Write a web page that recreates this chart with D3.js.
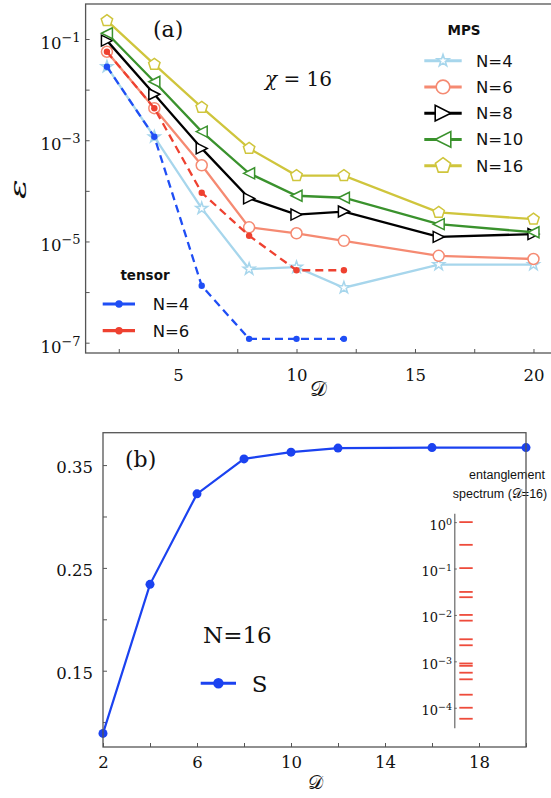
<!DOCTYPE html>
<html><head><meta charset="utf-8">
<script src="https://cdn.jsdelivr.net/npm/d3@7"></script>
<style>body{margin:0;background:#fff;} svg{display:block;}</style>
</head><body>
<svg id="c" width="551" height="798"></svg>
<script>
// ---------- data ----------
const D_mps = [2, 4, 6, 8, 10, 12, 16, 20];
const D_tensor = [2, 4, 6, 8, 10, 12];
const mps_N4  = [0.0284, 1.17e-3, 4.5e-5, 2.85e-6, 3.1e-6, 1.22e-6, 3.5e-6, 3.5e-6];
const mps_N6  = [0.056, 4.3e-3, 3.2e-4, 1.9e-5, 1.45e-5, 1.03e-5, 5.2e-6, 4.5e-6];
const mps_N8  = [0.093, 8.1e-3, 6.9e-4, 7.1e-5, 3.4e-5, 3.9e-5, 1.23e-5, 1.4e-5];
const mps_N10 = [0.13, 0.0143, 1.48e-3, 2.22e-4, 8.0e-5, 7.3e-5, 2.2e-5, 1.52e-5];
const mps_N16 = [0.23, 0.0316, 4.47e-3, 6.9e-4, 2.0e-4, 2.0e-4, 3.76e-5, 2.75e-5];
const tensor_N4 = [0.0284, 1.17e-3, 1.33e-6, 1.19e-7, 1.19e-7, 1.19e-7];
const tensor_N6 = [0.056, 4.3e-3, 9.2e-5, 1.3e-5, 2.7e-6, 2.7e-6];
const mpsLabels = ["N=4", "N=6", "N=8", "N=10", "N=16"];
const tensorLabels = ["N=4", "N=6"];
const D_S = [2, 4, 6, 8, 10, 12, 16, 20];
const S_vals = [0.089, 0.234, 0.322, 0.356, 0.3626, 0.3665, 0.367, 0.367];
const spectrum = [1.0, 0.324, 0.102, 0.0313, 0.0241, 0.0100, 0.00753, 0.00299, 0.00222,
                  0.00090, 0.00080, 0.000569, 0.000410, 0.000191, 0.000100, 0.0000579];
const topXTickLabels = [5, 10, 15, 20];
const topYTickLabels = [1e-1, 1e-3, 1e-5, 1e-7];
const botXTickLabels = [2, 6, 10, 14, 18];
const botYTickLabels = [0.15, 0.25, 0.35];
const insetTickLabels = [1, 1e-1, 1e-2, 1e-3, 1e-4];

// ---------- styles ----------
const mpsStyle = [
  {color: "#a7d6ec", shape: "star"},
  {color: "#f58a72", shape: "circle"},
  {color: "#000000", shape: "triR"},
  {color: "#3a922d", shape: "triL"},
  {color: "#cfc53c", shape: "pent"}
];
const mpsData = [mps_N4, mps_N6, mps_N8, mps_N10, mps_N16];
const tensorColors = ["#1f4ef5", "#ee4130"];
const tensorData = [tensor_N4, tensor_N6];
const SERIF = "DejaVu Serif, serif";
const SANS = "DejaVu Sans, sans-serif";
const SCRIPT = "DejaVu Sans, DejaVu Serif, Noto Sans, serif";

function markerPath(shape, r) {
  const p = d3.path();
  if (shape === "circle") { p.arc(0, 0, r, 0, 2 * Math.PI); }
  else if (shape === "star") {
    for (let i = 0; i < 10; i++) {
      const rad = i % 2 ? r * 0.39 : r, a = -Math.PI / 2 + i * Math.PI / 5;
      i ? p.lineTo(rad * Math.cos(a), rad * Math.sin(a)) : p.moveTo(rad * Math.cos(a), rad * Math.sin(a));
    }
    p.closePath();
  } else if (shape === "triR") { p.moveTo(r, 0); p.lineTo(-r, -r); p.lineTo(-r, r); p.closePath(); }
  else if (shape === "triL") { p.moveTo(-r, 0); p.lineTo(r, -r); p.lineTo(r, r); p.closePath(); }
  else if (shape === "pent") {
    for (let i = 0; i < 5; i++) {
      const a = -Math.PI / 2 + i * 2 * Math.PI / 5;
      i ? p.lineTo(r * Math.cos(a), r * Math.sin(a)) : p.moveTo(r * Math.cos(a), r * Math.sin(a));
    }
    p.closePath();
  }
  return p.toString();
}
const dataR = {circle: 5.5, star: 6.2, triR: 5.5, triL: 5.5, pent: 6};
const legR = {circle: 6.8, star: 6.2, triR: 7.8, triL: 7.8, pent: 8};

const svg = d3.select("#c");

function supLabel(g, x, y, exp, size, supSize, supDy) {
  const t = g.append("text").attr("x", x).attr("y", y).attr("text-anchor", "end")
    .attr("font-family", SERIF).attr("font-size", size).attr("fill", "#111");
  t.append("tspan").text("10");
  t.append("tspan").attr("dy", supDy).attr("font-size", supSize).text(exp < 0 ? "\u2212" + (-exp) : String(exp));
}

// ================= TOP PANEL =================
const T = {l: 85.6, r: 554.8, t: 4, b: 353};
const xTop = d3.scaleLinear().domain([1.1, 20.9]).range([T.l, T.r]);
const yTop = d3.scaleLog().domain([Math.pow(10, -7.204), Math.pow(10, -0.308)]).range([T.b, T.t]);

const gTop = svg.append("g");
const gxT = gTop.append("g").attr("transform", `translate(0,${T.b})`)
  .call(d3.axisBottom(xTop).tickValues([2.5, 5, 7.5, 10, 12.5, 15, 17.5, 20])
    .tickSizeInner(-4).tickSizeOuter(0).tickPadding(16)
    .tickFormat(d => topXTickLabels.includes(d) ? d : ""));
gxT.select(".domain").remove();
gxT.selectAll("line").attr("stroke", "#555");
gxT.selectAll("text").attr("font-family", SERIF).attr("font-size", 16.5).attr("fill", "#111");

const gyT = gTop.append("g").attr("transform", `translate(${T.l},0)`)
  .call(d3.axisLeft(yTop).tickValues(d3.range(-1, -8, -1).map(e => Math.pow(10, e)))
    .tickSizeInner(-4).tickSizeOuter(0).tickFormat(() => ""));
gyT.select(".domain").remove();
gyT.selectAll("line").attr("stroke", "#555");
topYTickLabels.forEach(v => supLabel(gTop, T.l - 5, yTop(v) + 10, Math.round(Math.log10(v)), 16.5, 13, -7));

const lineTop = (xs) => d3.line().x((d, i) => xTop(xs[i])).y(d => yTop(d));
mpsData.forEach((vals, k) => {
  const st = mpsStyle[k];
  gTop.append("path").attr("d", lineTop(D_mps)(vals)).attr("fill", "none")
    .attr("stroke", st.color).attr("stroke-width", 2.3);
  gTop.selectAll(null).data(vals).enter().append("path")
    .attr("d", markerPath(st.shape, dataR[st.shape]))
    .attr("transform", (d, i) => `translate(${xTop(D_mps[i])},${yTop(d)})`)
    .attr("fill", "#fff").attr("stroke", st.color).attr("stroke-width", 1.5);
});
tensorData.forEach((vals, k) => {
  gTop.append("path").attr("d", lineTop(D_tensor)(vals)).attr("fill", "none")
    .attr("stroke", tensorColors[k]).attr("stroke-width", 2.3).attr("stroke-dasharray", "8,5");
  gTop.selectAll(null).data(vals).enter().append("circle")
    .attr("cx", (d, i) => xTop(D_tensor[i])).attr("cy", d => yTop(d)).attr("r", 3.2)
    .attr("fill", tensorColors[k]);
});
gTop.append("rect").attr("x", T.l).attr("y", T.t).attr("width", T.r - T.l).attr("height", T.b - T.t)
  .attr("fill", "none").attr("stroke", "#555").attr("stroke-width", 1.3);

gTop.append("text").attr("x", 153).attr("y", 37).attr("font-family", SERIF).attr("font-size", 22).attr("fill", "#111").text("(a)");
const chi = gTop.append("text").attr("x", 265).attr("y", 86).attr("font-family", SERIF).attr("font-size", 20).attr("fill", "#111");
chi.append("tspan").attr("font-style", "italic").text("\u03c7");
chi.append("tspan").text(" = 16");
gTop.append("text").attr("transform", "translate(26,189) rotate(-90) scale(1.6,1)").attr("text-anchor", "middle")
  .attr("font-family", SERIF).attr("font-style", "italic").attr("font-size", 23).attr("fill", "#111").text("\u03b5");
gTop.append("text").attr("x", 318).attr("y", 396).attr("text-anchor", "middle")
  .attr("font-family", SCRIPT).attr("font-size", 21).attr("fill", "#111").text("\ud835\udc9f");

// MPS legend
gTop.append("text").attr("x", 464).attr("y", 35).attr("text-anchor", "middle").attr("font-family", SANS)
  .attr("font-weight", "bold").attr("font-size", 13.5).attr("fill", "#111").text("MPS");
mpsLabels.forEach((lab, k) => {
  const y = 60.7 + k * 26.25, st = mpsStyle[k];
  gTop.append("line").attr("x1", 424.3).attr("x2", 461.7).attr("y1", y).attr("y2", y)
    .attr("stroke", st.color).attr("stroke-width", 3);
  gTop.append("path").attr("d", markerPath(st.shape, legR[st.shape])).attr("transform", `translate(443,${y})`)
    .attr("fill", "#fff").attr("stroke", st.color).attr("stroke-width", 1.6);
  gTop.append("text").attr("x", 476).attr("y", y + 6).attr("font-family", SANS).attr("font-size", 16.5)
    .attr("fill", "#111").text(lab);
});
// tensor legend
gTop.append("text").attr("x", 145).attr("y", 280).attr("text-anchor", "middle").attr("font-family", SANS)
  .attr("font-weight", "bold").attr("font-size", 13.5).attr("fill", "#111").text("tensor");
tensorLabels.forEach((lab, k) => {
  const y = 304 + k * 26.7;
  gTop.append("line").attr("x1", 102.7).attr("x2", 135).attr("y1", y).attr("y2", y)
    .attr("stroke", tensorColors[k]).attr("stroke-width", 3.2);
  gTop.append("circle").attr("cx", 119).attr("cy", y).attr("r", 3.7).attr("fill", tensorColors[k]);
  gTop.append("text").attr("x", 152.7).attr("y", y + 6).attr("font-family", SANS).attr("font-size", 16.5)
    .attr("fill", "#111").text(lab);
});

// ================= BOTTOM PANEL =================
const B = {l: 103, r: 526, t: 432.7, b: 747};
const xBot = d3.scaleLinear().domain([2, 20]).range([B.l, B.r]);
const yBot = d3.scaleLinear().domain([0.0758, 0.3815]).range([B.b, B.t]);
const gBot = svg.append("g");

const gxB = gBot.append("g").attr("transform", `translate(0,${B.b})`)
  .call(d3.axisBottom(xBot).tickValues(d3.range(2, 21, 2)).tickSizeInner(-4).tickSizeOuter(0).tickPadding(9)
    .tickFormat(d => botXTickLabels.includes(d) ? d : ""));
gxB.select(".domain").remove();
gxB.selectAll("line").attr("stroke", "#555");
gxB.selectAll("text").attr("font-family", SERIF).attr("font-size", 16.5).attr("fill", "#111");

const gyB = gBot.append("g").attr("transform", `translate(${B.l},0)`)
  .call(d3.axisLeft(yBot).tickValues([0.10, 0.15, 0.20, 0.25, 0.30, 0.35]).tickSizeInner(-4).tickSizeOuter(0).tickPadding(10)
    .tickFormat(d => botYTickLabels.some(v => Math.abs(v - d) < 1e-9) ? d.toFixed(2) : ""));
gyB.select(".domain").remove();
gyB.selectAll("line").attr("stroke", "#555");
gyB.selectAll("text").attr("font-family", SERIF).attr("font-size", 16.5).attr("fill", "#111").attr("dy", "0.45em");

const sBlue = "#1b42f0";
gBot.append("path").attr("d", d3.line().x((d, i) => xBot(D_S[i])).y(d => yBot(d))(S_vals))
  .attr("fill", "none").attr("stroke", sBlue).attr("stroke-width", 2.2);
gBot.selectAll(null).data(S_vals).enter().append("circle")
  .attr("cx", (d, i) => xBot(D_S[i])).attr("cy", d => yBot(d)).attr("r", 4.5).attr("fill", sBlue);

// inset: entanglement spectrum
const yIn = d3.scaleLog().domain([Math.pow(10, -4.43), Math.pow(10, 0.19)]).range([727.7, 513.3]);
const gIn = gBot.append("g").attr("transform", "translate(454.3,0)")
  .call(d3.axisLeft(yIn).tickValues(insetTickLabels).tickSizeInner(-2.5).tickSizeOuter(0).tickFormat(() => ""));
gIn.select(".domain").attr("stroke", "#666").attr("stroke-width", 1.2);
gIn.selectAll("line").attr("stroke", "#666");
insetTickLabels.forEach(v => supLabel(gBot, 452, yIn(v) + 7.5, Math.round(Math.log10(v)), 13, 9.5, -5));
gBot.selectAll(null).data(spectrum).enter().append("line")
  .attr("x1", 459.3).attr("x2", 472.7).attr("y1", d => yIn(d)).attr("y2", d => yIn(d))
  .attr("stroke", "#ee4b3b").attr("stroke-width", 1.8);
gBot.append("text").attr("x", 507).attr("y", 479).attr("text-anchor", "middle").attr("font-family", "Liberation Sans, Arial, sans-serif")
  .attr("font-size", 12.5).attr("fill", "#111").text("entanglement");
const spec = gBot.append("text").attr("x", 500).attr("y", 498).attr("text-anchor", "middle").attr("font-family", "Liberation Sans, Arial, sans-serif")
  .attr("font-size", 12.5).attr("fill", "#111");
spec.append("tspan").text("spectrum (");
spec.append("tspan").attr("font-family", SCRIPT).text("\ud835\udc9f");
spec.append("tspan").text("=16)");

gBot.append("rect").attr("x", B.l).attr("y", B.t).attr("width", B.r - B.l).attr("height", B.b - B.t)
  .attr("fill", "none").attr("stroke", "#555").attr("stroke-width", 1.3);

gBot.append("text").attr("x", 125).attr("y", 467).attr("font-family", SERIF).attr("font-size", 22).attr("fill", "#111").text("(b)");
gBot.append("text").attr("x", 203).attr("y", 642.7).attr("font-family", SERIF).attr("font-size", 23).attr("fill", "#111").text("N=16");
gBot.append("line").attr("x1", 200.7).attr("x2", 236).attr("y1", 683.3).attr("y2", 683.3).attr("stroke", sBlue).attr("stroke-width", 3);
gBot.append("circle").attr("cx", 218.4).attr("cy", 683.3).attr("r", 5.2).attr("fill", sBlue);
gBot.append("text").attr("x", 251.7).attr("y", 691.7).attr("font-family", SERIF).attr("font-size", 23).attr("fill", "#111").text("S");
gBot.append("text").attr("x", 315).attr("y", 789).attr("text-anchor", "middle")
  .attr("font-family", SCRIPT).attr("font-size", 19).attr("fill", "#111").text("\ud835\udc9f");
</script>
</body></html>
